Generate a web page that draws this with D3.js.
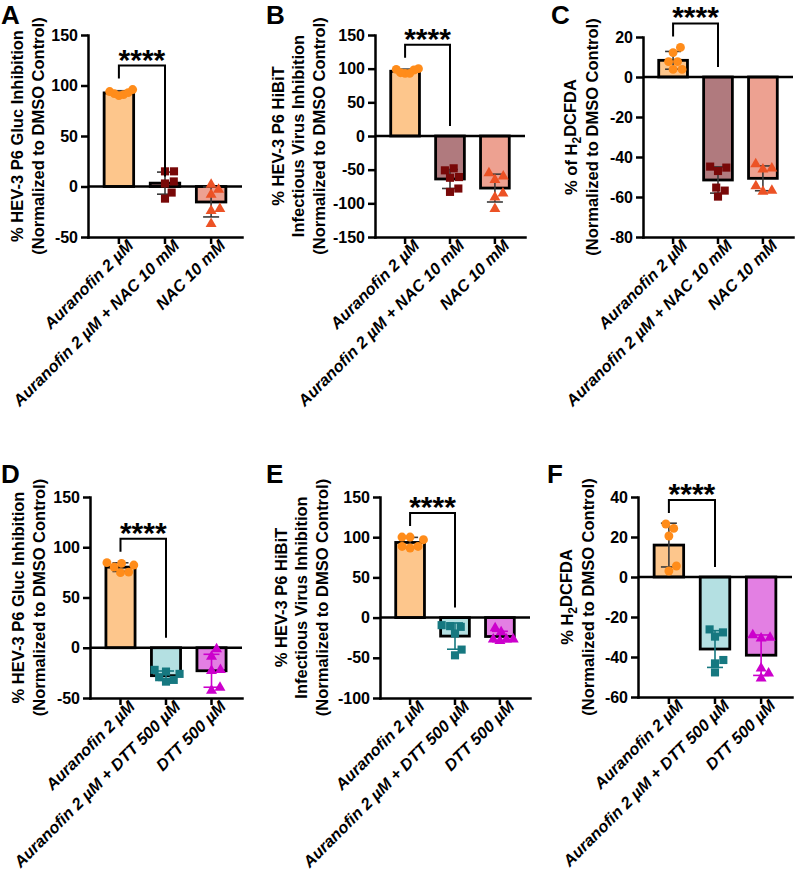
<!DOCTYPE html>
<html>
<head>
<meta charset="utf-8">
<script src="https://cdn.jsdelivr.net/npm/d3@7"></script>
<style>
body { margin: 0; background: #fff; }
svg { display: block; font-family: "Liberation Sans", Arial, sans-serif; }
</style>
</head>
<body>
<script>
// treatment groups
const groupsNAC = ["Auranofin 2 µM", "Auranofin 2 µM + NAC 10 mM", "NAC 10 mM"];
const groupsDTT = ["Auranofin 2 µM", "Auranofin 2 µM + DTT 500 µM", "DTT 500 µM"];

// replicate values (% normalized to DMSO), one list per group
const glucNAC = [
	[92, 96, 91, 94, 90, 93],
	[15, 15, 5, 3, -6, -12],
	[2, -3, -8, -22, -24, -37]
];
const hibitNAC = [
	[93, 100, 99, 94, 98, 93],
	[-51, -48, -61, -62, -83, -78],
	[-55, -65, -60, -85, -91, -108]
];
const dcfdaNAC = [
	[14.8, 12.2, 7.7, 7.7, 3.8, 3.8],
	[-45.3, -44.8, -47, -55.3, -56.8, -59.8],
	[-43.5, -46.2, -45.7, -54.5, -57.3, -56.8]
];
const glucDTT = [
	[84, 82.3, 84.7, 80.3, 75.3, 74.7],
	[-23.7, -22, -26, -29.3, -32, -33.7],
	[-1.3, -8.7, -22, -23, -42.7, -39.7]
];
const hibitDTT = [
	[96.9, 100.2, 100.2, 86.5, 88.5, 88.5],
	[-11.5, -9.4, -10.6, -19.8, -39.8, -46.9],
	[-18, -13, -29, -27, -27, -27]
];
const dcfdaDTT = [
	[26.5, 24.3, 20.5, 3, 5.5],
	[-26.2, -27.7, -29.8, -41.5, -43.2, -47.7],
	[-30.3, -29, -30.7, -45.7, -50.7, -48.2]
];

// y tick labels
const ticksGluc = [-50, 0, 50, 100, 150];
const ticksHibitNAC = [-150, -100, -50, 0, 50, 100, 150];
const ticksDcfdaNAC = [-80, -60, -40, -20, 0, 20];
const ticksHibitDTT = [-100, -50, 0, 50, 100, 150];
const ticksDcfdaDTT = [-60, -40, -20, 0, 20, 40];

// axis titles ("_2" marks a subscript 2)
const titleGluc = ["% HEV-3 P6 Gluc Inhibition", "(Normalized to DMSO Control)"];
const titleHibit = ["% HEV-3 P6 HiBiT", "Infectious Virus Inhibition", "(Normalized to DMSO Control)"];
const titleDcfdaNAC = ["% of H_2DCFDA", "(Normalized to DMSO Control)"];
const titleDcfdaDTT = ["% H_2DCFDA", "(Normalized to DMSO Control)"];

const significance = "****";

const styleNAC = [
	{fill: "#FDC68C", pt: "#FF8C1A", shape: d3.symbolCircle, size: 62, err: "#3a3a3a"},
	{fill: "#B07A7E", pt: "#780808", shape: d3.symbolSquare, size: 66, err: "#3a3a3a"},
	{fill: "#EDA191", pt: "#EC5225", shape: d3.symbolTriangle, size: 52, err: "#3a3a3a"}
];
const styleDTT = [
	{fill: "#FDC68C", pt: "#FF8C1A", shape: d3.symbolCircle, size: 62, err: "#3a3a3a"},
	{fill: "#B4E0E2", pt: "#167880", shape: d3.symbolSquare, size: 66, err: "#167880"},
	{fill: "#E37FE3", pt: "#CC00CC", shape: d3.symbolTriangle, size: 52, err: "#CC00CC"}
];

const panels = [
	{letter: "A", lx: 1, ly: 24, x0: 88, x1: 242, yTop: 35, yBot: 237, ticks: ticksGluc, data: glucNAC, groups: groupsNAC, title: titleGluc, tx: -50, style: styleNAC},
	{letter: "B", lx: 266, ly: 24, x0: 375, x1: 525, yTop: 35, yBot: 237, ticks: ticksHibitNAC, data: hibitNAC, groups: groupsNAC, title: titleHibit, tx: -56, style: styleNAC},
	{letter: "C", lx: 551, ly: 24, x0: 643, x1: 793, yTop: 37, yBot: 237, ticks: ticksDcfdaNAC, data: dcfdaNAC, groups: groupsNAC, title: titleDcfdaNAC, tx: -51, style: styleNAC},
	{letter: "D", lx: 1, ly: 483, x0: 90, x1: 242, yTop: 497, yBot: 698, ticks: ticksGluc, data: glucDTT, groups: groupsDTT, title: titleGluc, tx: -51, style: styleDTT},
	{letter: "E", lx: 266, ly: 483, x0: 380, x1: 530, yTop: 497, yBot: 698, ticks: ticksHibitDTT, data: hibitDTT, groups: groupsDTT, title: titleHibit, tx: -58, style: styleDTT},
	{letter: "F", lx: 547, ly: 483, x0: 638, x1: 792, yTop: 497, yBot: 697, ticks: ticksDcfdaDTT, data: dcfdaDTT, groups: groupsDTT, title: titleDcfdaDTT, tx: -50, style: styleDTT}
];

const svg = d3.select("body").append("svg")
	.attr("width", 795)
	.attr("height", 873);

svg.append("rect").attr("width", 795).attr("height", 873).attr("fill", "#fff");

// simple centred swarm so overlapping replicates spread sideways
function swarm(values, y, diam, limit) {
	let order = values.map((v, i) => i).sort((a, b) => values[a] - values[b]);
	let placed = [];
	let xs = new Array(values.length);
	for (let i of order) {
		let py = y(values[i]);
		let cands = [0];
		for (let q of placed) {
			let dy = Math.abs(q.y - py);
			if (dy < diam) {
				let dx = Math.sqrt(diam * diam - dy * dy);
				cands.push(q.x + dx, q.x - dx);
			}
		}
		cands.sort((a, b) => Math.abs(a) - Math.abs(b) || b - a);
		let x = cands.find(c => placed.every(q => {
			let dx = q.x - c, dy = q.y - py;
			return dx * dx + dy * dy >= diam * diam - 0.01;
		}));
		placed.push({x: x, y: py});
		xs[i] = x;
	}
	// squeeze wide rows back inside the bar
	let widest = d3.max(xs, Math.abs);
	if (widest > limit)
		xs = xs.map(v => v * limit / widest);
	return xs;
}

function addTitleLine(sel, str) {
	let parts = str.split("_2");
	sel.append("tspan").text(parts[0]);
	if (parts.length > 1) {
		sel.append("tspan").attr("font-size", "12px").attr("dy", "0.3em").text("2");
		sel.append("tspan").attr("dy", "-0.3em").text(parts[1]);
	}
}

panels.forEach(p => {
	let w = p.x1 - p.x0;
	let g = svg.append("g").attr("transform", `translate(${p.x0},0)`);

	let x = d3.scaleBand()
		.domain(p.groups)
		.range([0, w])
		.paddingInner(0.36)
		.paddingOuter(0.35);

	let y = d3.scaleLinear()
		.domain(d3.extent(p.ticks))
		.range([p.yBot, p.yTop]);

	let stats = p.data.map(vals => ({mean: d3.mean(vals), sd: d3.deviation(vals)}));

	// bars
	g.selectAll("rect.bar")
		.data(p.groups)
		.enter().append("rect")
		.attr("class", "bar")
		.attr("x", d => x(d))
		.attr("width", x.bandwidth())
		.attr("y", (d, i) => Math.min(y(0), y(stats[i].mean)))
		.attr("height", (d, i) => Math.abs(y(stats[i].mean) - y(0)))
		.style("fill", (d, i) => p.style[i].fill)
		.style("stroke", "#000")
		.style("stroke-width", 2.8);

	// zero line
	g.append("line")
		.attr("x1", 0).attr("x2", w)
		.attr("y1", y(0)).attr("y2", y(0))
		.style("stroke", "#000")
		.style("stroke-width", 2.5);

	// error bars (mean +/- SD)
	p.groups.forEach((grp, i) => {
		let cx = x(grp) + x.bandwidth() / 2;
		let s = stats[i];
		let eg = g.append("g").style("stroke", p.style[i].err).style("stroke-width", 1.6);
		eg.append("line").attr("x1", cx).attr("x2", cx)
			.attr("y1", y(s.mean - s.sd)).attr("y2", y(s.mean + s.sd));
		[s.mean - s.sd, s.mean + s.sd].forEach(v => {
			eg.append("line").attr("x1", cx - 8).attr("x2", cx + 8)
				.attr("y1", y(v)).attr("y2", y(v));
		});
	});

	// replicate points
	p.data.forEach((vals, i) => {
		let cx = x(p.groups[i]) + x.bandwidth() / 2;
		let offs = swarm(vals, y, 9, x.bandwidth() / 2 - 1);
		let st = p.style[i];
		g.selectAll(null)
			.data(vals)
			.enter().append("path")
			.attr("d", d3.symbol().type(st.shape).size(st.size))
			.attr("transform", (d, k) => `translate(${cx + offs[k]},${y(d)})`)
			.style("fill", st.pt);
	});

	// y axis
	let yAxis = g.append("g")
		.call(d3.axisLeft(y).tickValues(p.ticks).tickFormat(d => String(d))
			.tickSize(7).tickSizeOuter(0).tickPadding(3));
	yAxis.select(".domain").style("stroke-width", 2.5).style("stroke-linecap", "square");
	yAxis.selectAll(".tick line").style("stroke-width", 2.5);
	yAxis.selectAll(".tick text")
		.style("font-size", "16px")
		.style("font-weight", "bold")
		.style("font-family", "'Liberation Sans', Arial, sans-serif")
		.style("fill", "#000");

	// bottom axis
	let xAxis = g.append("g")
		.attr("transform", `translate(0,${p.yBot})`)
		.call(d3.axisBottom(x).tickSize(7).tickSizeOuter(0));
	xAxis.select(".domain").style("stroke-width", 2.5).style("stroke-linecap", "square");
	xAxis.selectAll(".tick line").style("stroke-width", 2.5);
	xAxis.selectAll(".tick text")
		.attr("x", 4)
		.attr("y", 12)
		.attr("dy", "0.35em")
		.attr("transform", "rotate(-45)")
		.style("text-anchor", "end")
		.style("font-size", "16.3px")
		.style("font-weight", "bold")
		.style("font-style", "italic")
		.style("font-family", "'Liberation Sans', Arial, sans-serif")
		.style("fill", "#000");

	// axis title
	let yMid = (p.yTop + p.yBot) / 2;
	let n = p.title.length;
	p.title.forEach((line, k) => {
		let tx = p.x0 + p.tx - (n - 1 - k) * 20.5;
		let t = svg.append("text")
			.attr("transform", `translate(${tx},${yMid}) rotate(-90)`)
			.attr("text-anchor", "middle")
			.attr("dy", "0.36em")
			.style("font-size", "16.5px")
			.style("font-weight", "bold");
		addTitleLine(t, line);
	});

	// significance bracket between first two groups
	let c0 = x(p.groups[0]) + x.bandwidth() / 2;
	let c1 = x(p.groups[1]) + x.bandwidth() / 2;
	let legL = y(d3.max(p.data[0])) - 11;
	let top = legL - 13;
	let legR = y(0) - 10;
	g.append("path")
		.attr("d", `M${c0},${legL}V${top}H${c1}V${legR}`)
		.style("fill", "none")
		.style("stroke", "#000")
		.style("stroke-width", 2);
	g.append("text")
		.attr("x", (c0 + c1) / 2)
		.attr("y", top + 4)
		.attr("text-anchor", "middle")
		.style("font-size", "30px")
		.style("font-weight", "bold")
		.text(significance);

	// panel letter
	svg.append("text")
		.attr("x", p.lx)
		.attr("y", p.ly)
		.style("font-size", "26px")
		.style("font-weight", "bold")
		.text(p.letter);
});
</script>
</body>
</html>
